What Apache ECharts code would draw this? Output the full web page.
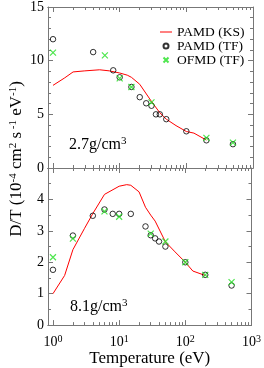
<!DOCTYPE html>
<html>
<head>
<meta charset="utf-8">
<script src="https://cdn.jsdelivr.net/npm/echarts@6/dist/echarts.min.js"></script>
<style>html,body{margin:0;padding:0;background:#fff}#c{width:264px;height:368px}</style>
</head>
<body>
<div id="c"></div>
<script>
// ---- data (upper panel, 2.7 g/cm3) ----
var ksTopT = [1, 1.5, 2, 3, 5, 7, 10, 13, 15, 20, 30, 40, 50, 70, 100, 130, 200];
var ksTopD = [7.7, 8.4, 8.95, 9.05, 9.15, 9.05, 8.85, 8.65, 8.45, 7.8, 6.2, 5.15, 4.55, 3.95, 3.4, 3.25, 2.6];
var tfTopT = [1, 4, 8, 10, 15, 20, 25, 30, 35, 40, 50, 100, 200, 500];
var tfTopD = [12.0, 10.8, 9.1, 8.45, 7.55, 6.6, 6.03, 5.8, 5.0, 5.0, 4.55, 3.42, 2.58, 2.22];
var ofTopT = [1, 6, 10, 15, 30, 200, 500];
var ofTopD = [10.75, 10.5, 8.35, 7.55, 6.12, 2.8, 2.36];
// ---- data (lower panel, 8.1 g/cm3) ----
var ksBotT = [1, 1.5, 2, 3, 4, 6, 10, 13, 15, 20, 25, 30, 35, 50, 70, 100, 130, 200];
var ksBotD = [1.0, 1.58, 2.4, 3.08, 3.55, 4.16, 4.42, 4.47, 4.45, 4.24, 3.75, 3.5, 3.31, 2.65, 2.33, 2.0, 1.72, 1.58];
var tfBotT = [1, 2, 4, 6, 8, 10, 15, 25, 30, 35, 40, 50, 100, 200, 500];
var tfBotD = [1.76, 2.85, 3.48, 3.68, 3.54, 3.54, 3.54, 3.14, 2.86, 2.76, 2.66, 2.5, 2.0, 1.6, 1.26];
var ofBotT = [1, 2, 6, 10, 30, 50, 100, 200, 500];
var ofBotD = [2.16, 2.75, 3.62, 3.45, 2.91, 2.66, 2.0, 1.6, 1.37];
// ---- axis ticks / labels ----
var xMajor = [1, 10, 100, 1000];
var xMinor = [2,3,4,5,6,7,8,9,20,30,40,50,60,70,80,90,200,300,400,500,600,700,800,900];
var seriesNames = ['PAMD (KS)', 'PAMD (TF)', 'OFMD (TF)'];
var densityLabels = ['2.7g/cm', '8.1g/cm'];

function pairs(t, d) { return t.map(function (v, i) { return [v, d[i]]; }); }

var FONT = 'Liberation Serif';
var AX = '#777';
var XMIN = 0.841, XMAX = 1000;

function xAx(grid, pos, values, len, labels) {
  return {
    type: 'log', gridIndex: grid, position: pos, min: XMIN, max: XMAX, logBase: 10,
    axisLine: { show: true, lineStyle: { color: AX, width: 1 } },
    axisTick: { show: true, inside: true, length: len, customValues: values, lineStyle: { color: AX } },
    axisLabel: labels ? {
      show: true, customValues: xMajor, margin: 9, color: '#000',
      formatter: function (v) { return '{b|10}{s|' + Math.round(Math.log10(v)) + '}'; },
      rich: { b: { fontFamily: FONT, fontSize: 14, lineHeight: 16, color: '#000' },
              s: { fontFamily: FONT, fontSize: 10, lineHeight: 9, verticalAlign: 'top', color: '#000' } }
    } : { show: false },
    splitLine: { show: false }, minorSplitLine: { show: false }
  };
}
function yAx(grid, pos, max, interval, minorSplit, labels, hideTop) {
  return {
    type: 'value', gridIndex: grid, position: pos, min: 0, max: max, interval: interval,
    axisLine: { show: true, lineStyle: { color: AX, width: 1 } },
    axisTick: { show: true, inside: true, length: 5, lineStyle: { color: AX } },
    minorTick: { show: true, splitNumber: minorSplit, length: 3, lineStyle: { color: AX } },
    axisLabel: labels ? {
      show: true, margin: 4, color: '#000', fontFamily: FONT, fontSize: 14,
      formatter: function (v) { return (hideTop && v === max) ? '' : String(v); }
    } : { show: false },
    splitLine: { show: false }, minorSplitLine: { show: false }
  };
}

var lineStyleKS = { color: '#ff0000', width: 1 };
var circStyle = { color: 'rgba(0,0,0,0)', borderColor: '#000', borderWidth: 1 };
var crossStyle = { color: 'rgba(0,0,0,0)', borderColor: '#22e022', borderWidth: 1.2 };
var CROSS = 'path://M0,0L10,10M10,0L0,10';
var DASH = 'path://M0,0L12,0L12,1L0,1Z';

var option = {
  animation: false,
  backgroundColor: '#fff',
  grid: [
    { left: 48, right: 11, top: 6, height: 162 },
    { left: 48, right: 11, top: 168, height: 162 }
  ],
  xAxis: [
    xAx(0, 'bottom', xMinor, 3, false),
    xAx(0, 'bottom', xMajor, 5, false),
    xAx(0, 'top', xMinor, 3, false),
    xAx(0, 'top', xMajor, 5, false),
    xAx(1, 'bottom', xMinor, 3, false),
    Object.assign(xAx(1, 'bottom', xMajor, 5, true), {
      name: 'Temperature (eV)', nameLocation: 'middle', nameGap: 20,
      nameTextStyle: { fontFamily: FONT, fontSize: 17, color: '#000' }
    }),
    xAx(1, 'top', xMinor, 3, false),
    xAx(1, 'top', xMajor, 5, false)
  ],
  yAxis: [
    yAx(0, 'left', 15, 5, 5, true, false),
    yAx(0, 'right', 15, 5, 5, false, false),
    yAx(1, 'left', 5, 1, 2, true, true),
    yAx(1, 'right', 5, 1, 2, false, true)
  ],
  legend: {
    orient: 'vertical', left: 155, top: 20, itemWidth: 12, itemHeight: 5, itemGap: 0,
    textStyle: { fontFamily: FONT, fontSize: 13.5, color: '#000', lineHeight: 14 },
    data: [
      { name: seriesNames[0], icon: DASH },
      { name: seriesNames[1], icon: 'circle' },
      { name: seriesNames[2], icon: CROSS }
    ]
  },
  series: [
    { name: seriesNames[0], type: 'line', xAxisIndex: 1, yAxisIndex: 0, data: pairs(ksTopT, ksTopD),
      symbol: 'none', lineStyle: lineStyleKS, itemStyle: { color: '#ff0000' }, z: 2 },
    { name: seriesNames[1], type: 'scatter', xAxisIndex: 1, yAxisIndex: 0, data: pairs(tfTopT, tfTopD),
      symbol: 'circle', symbolSize: 5.5, itemStyle: circStyle, z: 3 },
    { name: seriesNames[2], type: 'scatter', xAxisIndex: 1, yAxisIndex: 0, data: pairs(ofTopT, ofTopD),
      symbol: CROSS, symbolSize: 6, itemStyle: crossStyle, z: 4 },
    { name: seriesNames[0], type: 'line', xAxisIndex: 5, yAxisIndex: 2, data: pairs(ksBotT, ksBotD),
      symbol: 'none', lineStyle: lineStyleKS, itemStyle: { color: '#ff0000' }, z: 2 },
    { name: seriesNames[1], type: 'scatter', xAxisIndex: 5, yAxisIndex: 2, data: pairs(tfBotT, tfBotD),
      symbol: 'circle', symbolSize: 5.5, itemStyle: circStyle, z: 3 },
    { name: seriesNames[2], type: 'scatter', xAxisIndex: 5, yAxisIndex: 2, data: pairs(ofBotT, ofBotD),
      symbol: CROSS, symbolSize: 6, itemStyle: crossStyle, z: 4 }
  ],
  graphic: [
    { type: 'text', x: 17, y: 159, rotation: Math.PI / 2,
      style: {
        text: '{a|D/T (10}{s|-4}{a| cm}{s|2}{a| s}{s| -1}{a| eV}{s|-1}{a|)}',
        align: 'center', verticalAlign: 'middle', fill: '#000',
        rich: { a: { fontFamily: FONT, fontSize: 17, lineHeight: 18, fill: '#000' },
                s: { fontFamily: FONT, fontSize: 11, lineHeight: 10, verticalAlign: 'top', fill: '#000' } }
      } },
    { type: 'text', left: 69, top: 136,
      style: { text: '{a|' + densityLabels[0] + '}{s|3}',
        rich: { a: { fontFamily: FONT, fontSize: 16, lineHeight: 18, fill: '#000' },
                s: { fontFamily: FONT, fontSize: 11, lineHeight: 10, verticalAlign: 'top', fill: '#000' } } } },
    { type: 'text', left: 70, top: 298,
      style: { text: '{a|' + densityLabels[1] + '}{s|3}',
        rich: { a: { fontFamily: FONT, fontSize: 16, lineHeight: 18, fill: '#000' },
                s: { fontFamily: FONT, fontSize: 11, lineHeight: 10, verticalAlign: 'top', fill: '#000' } } } }
  ]
};
var chart = echarts.init(document.getElementById('c'), null, { renderer: 'canvas' });
chart.setOption(option);
</script>
</body>
</html>
